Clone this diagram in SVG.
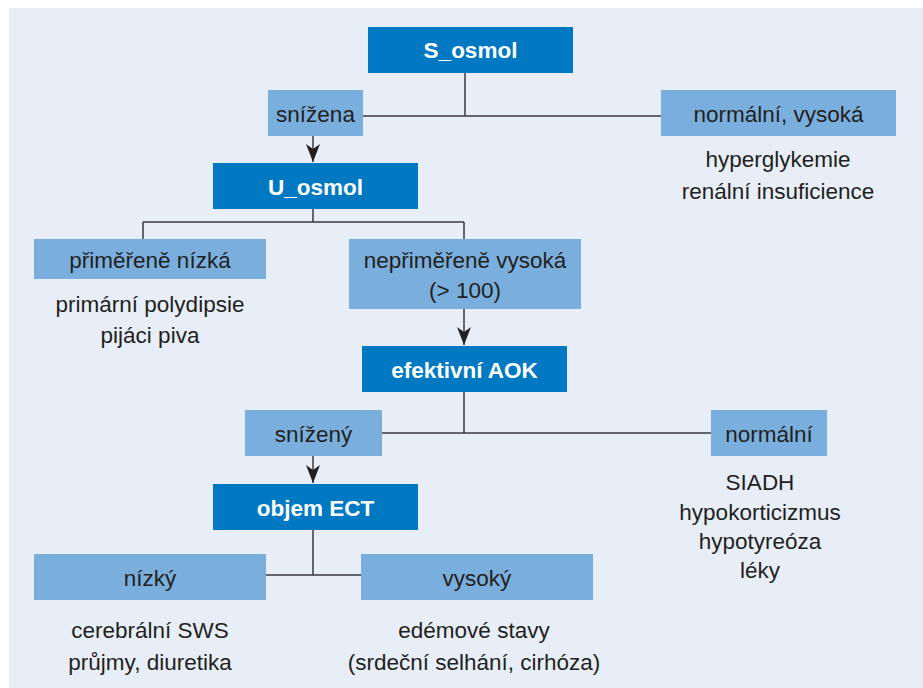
<svg xmlns="http://www.w3.org/2000/svg" width="923" height="688" viewBox="0 0 923 688">
<defs>
<style>
.dark{fill:#0079c2}
.light{fill:#7aafdd}
.bt{font-family:"Liberation Sans",Arial,sans-serif;font-weight:bold;font-size:22.5px;fill:#ffffff;text-anchor:middle}
.t{font-family:"Liberation Sans",Arial,sans-serif;font-size:22.5px;fill:#231f20;text-anchor:middle}
.ln{stroke:#3a3a3c;stroke-width:1.5;fill:none}
</style>
<marker id="ah" viewBox="0 0 18 14" refX="18" refY="7" markerWidth="18" markerHeight="14" markerUnits="userSpaceOnUse" orient="auto">
<path d="M0,0 L18,7 L0,14 L5,7 Z" fill="#231f20"/>
</marker>
</defs>
<rect x="9" y="8" width="914" height="680" fill="#e7eef8"/>
<g id="connectors">
<path class="ln" d="M465,73 V116 M363,116 H661"/>
<path class="ln" d="M313,136 V162" marker-end="url(#ah)"/>
<path class="ln" d="M313,209 V222 M143,222 H464 M143,222 V239 M464,222 V239"/>
<path class="ln" d="M464,309 V345" marker-end="url(#ah)"/>
<path class="ln" d="M464,392 V433 M382,433 H711"/>
<path class="ln" d="M313,456 V483" marker-end="url(#ah)"/>
<path class="ln" d="M313,530 V575 M266,575 H361"/>
</g>
<g id="s_osmol">
<rect class="dark" x="368" y="27" width="205" height="46"/>
<text class="bt" x="470.5" y="58">S_osmol</text>
</g>
<g id="snizena">
<rect class="light" x="268" y="90" width="95" height="46"/>
<text class="t" x="315.5" y="121.5">snížena</text>
</g>
<g id="normalni_vysoka">
<rect class="light" x="661" y="90" width="235" height="46"/>
<text class="t" x="778.5" y="122">normální, vysoká</text>
<text class="t" x="778" y="166.5">hyperglykemie</text>
<text class="t" x="778" y="199">renální insuficience</text>
</g>
<g id="u_osmol">
<rect class="dark" x="213" y="163" width="205" height="46"/>
<text class="bt" x="315.5" y="194.5">U_osmol</text>
</g>
<g id="primerene_nizka">
<rect class="light" x="34" y="239" width="232" height="40"/>
<text class="t" x="150" y="267.5">přiměřeně nízká</text>
<text class="t" x="150" y="312">primární polydipsie</text>
<text class="t" x="150" y="343">pijáci piva</text>
</g>
<g id="neprimerene_vysoka">
<rect class="light" x="349" y="239" width="232" height="70"/>
<text class="t" x="465" y="268">nepřiměřeně vysoká</text>
<text class="t" x="465" y="298">(&gt; 100)</text>
</g>
<g id="efektivni_aok">
<rect class="dark" x="362" y="346" width="205" height="46"/>
<text class="bt" x="464.5" y="377.5">efektivní AOK</text>
</g>
<g id="snizeny">
<rect class="light" x="245" y="410" width="137" height="46"/>
<text class="t" x="313.5" y="441.5">snížený</text>
</g>
<g id="normalni">
<rect class="light" x="711" y="410" width="116" height="46"/>
<text class="t" x="769" y="441.5">normální</text>
<text class="t" x="760" y="490">SIADH</text>
<text class="t" x="760" y="520">hypokorticizmus</text>
<text class="t" x="760" y="549">hypotyreóza</text>
<text class="t" x="760" y="578">léky</text>
</g>
<g id="objem_ect">
<rect class="dark" x="213" y="484" width="205" height="46"/>
<text class="bt" x="315.5" y="515.5">objem ECT</text>
</g>
<g id="nizky">
<rect class="light" x="34" y="554" width="232" height="46"/>
<text class="t" x="150" y="585.5">nízký</text>
<text class="t" x="150" y="638">cerebrální SWS</text>
<text class="t" x="150" y="670">průjmy, diuretika</text>
</g>
<g id="vysoky">
<rect class="light" x="361" y="554" width="232" height="46"/>
<text class="t" x="477" y="585.5">vysoký</text>
<text class="t" x="474" y="638">edémové stavy</text>
<text class="t" x="474" y="670">(srdeční selhání, cirhóza)</text>
</g>
</svg>
